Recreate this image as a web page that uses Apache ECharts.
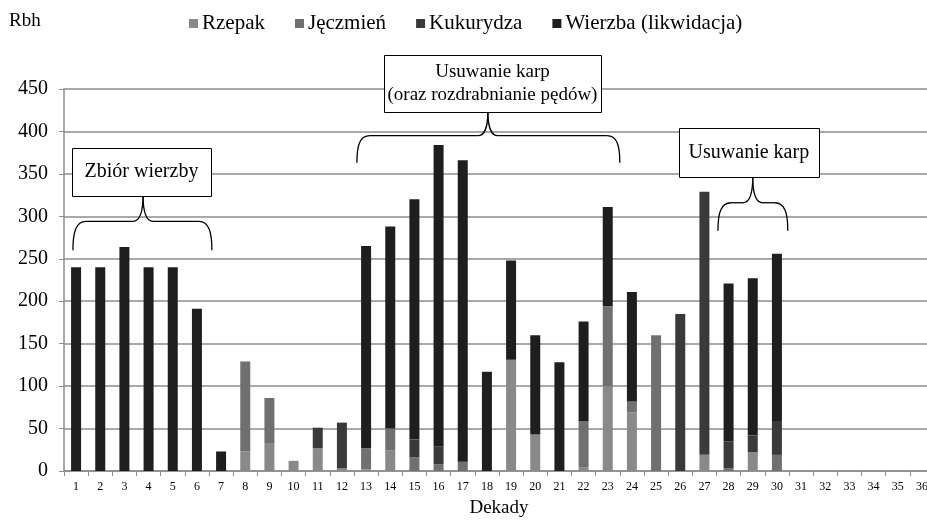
<!DOCTYPE html>
<html>
<head>
<meta charset="utf-8">
<script src="https://cdn.jsdelivr.net/npm/echarts@6/dist/echarts.min.js"></script>
<style>
  html, body { margin: 0; padding: 0; background: #fff; overflow: hidden; }
  #chart { width: 927px; height: 524px; }
</style>
</head>
<body>
<div id="chart"></div>
<script>
// dekady 1..36
const categories = Array.from({ length: 36 }, (e, i) => String(i + 1))

const seriesNames = ['Rzepak', 'Jęczmień', 'Kukurydza', 'Wierzba (likwidacja)']

const rzepak = [0, 0, 0, 0, 0, 0, 0, 23, 33, 12, 27, 3, 2, 24, 0, 0, 0, 0, 131, 43, 0, 4, 100, 69, 0, 0, 19, 0, 22, 0, 0, 0, 0, 0, 0, 0]
const jeczmien = [0, 0, 0, 0, 0, 0, 0, 106, 53, 0, 0, 0, 25, 26, 16, 8, 11, 0, 0, 0, 0, 55, 94, 13, 160, 0, 0, 3, 0, 19, 0, 0, 0, 0, 0, 0]
const kukurydza = [0, 0, 0, 0, 0, 0, 0, 0, 0, 0, 24, 54, 0, 0, 21, 21, 0, 0, 0, 0, 0, 0, 0, 0, 0, 185, 310, 32, 20, 40, 0, 0, 0, 0, 0, 0]
const wierzba = [240, 240, 264, 240, 240, 191, 23, 0, 0, 0, 0, 0, 238, 238, 283, 355, 355, 117, 117, 117, 128, 117, 117, 129, 0, 0, 0, 186, 185, 197, 0, 0, 0, 0, 0, 0]

const yTicks = { min: 0, max: 450, interval: 50 }

const annotationTexts = ['Zbiór wierzby', 'Usuwanie karp\n(oraz rozdrabnianie pędów)', 'Usuwanie karp']

const colors = ['#898989', '#707070', '#3a3a3a', '#1e1e1e']
const font = '"Liberation Serif", "Times New Roman", serif'

// ramki i klamry w układzie danych (pozycja dekady, wartość)
const boxes = [
  { c0: 0.83, c1: 6.58, v0: 325, v1: 381, size: 20 },
  { c0: 13.74, c1: 22.72, v0: 423, v1: 490, size: 19 },
  { c0: 25.94, c1: 31.74, v0: 346, v1: 404, size: 20 }
]
const braces = [
  { cl: 0.87, cr: 6.62, cm: 3.77, vb: 260, vh: 294, vt: 325 },
  { cl: 12.62, cr: 23.5, cm: 18.04, vb: 363, vh: 395, vt: 423 },
  { cl: 27.56, cr: 30.45, cm: 29.0, vb: 283, vh: 316, vt: 346 }
]

const chart = echarts.init(document.getElementById('chart'))

const seriesData = [rzepak, jeczmien, kukurydza, wierzba]

chart.setOption({
  animation: false,
  color: colors,
  textStyle: { fontFamily: font },
  title: {
    text: 'Rbh',
    left: 4,
    top: 7,
    textStyle: { fontFamily: font, fontSize: 19, fontWeight: 'normal', color: '#000' }
  },
  legend: {
    data: seriesNames,
    left: 184,
    top: 8,
    icon: 'rect',
    itemWidth: 9,
    itemHeight: 9,
    itemGap: 30,
    textStyle: { fontFamily: font, fontSize: 21, color: '#000', padding: [0, 0, 0, -1] }
  },
  grid: {
    left: 64,
    top: 89,
    width: 870,
    bottom: 53,
    outerBoundsMode: 'none',
    containLabel: false
  },
  xAxis: {
    type: 'category',
    data: categories,
    name: 'Dekady',
    nameLocation: 'middle',
    nameGap: 28,
    nameTextStyle: { fontFamily: font, fontSize: 19, color: '#000' },
    axisLine: { lineStyle: { color: '#8c8c8c', width: 1.5 } },
    axisTick: { show: true, length: 5, lineStyle: { color: '#8c8c8c' } },
    axisLabel: { fontFamily: font, fontSize: 12, color: '#000', margin: 10, interval: 0 }
  },
  yAxis: {
    type: 'value',
    min: yTicks.min,
    max: yTicks.max,
    interval: yTicks.interval,
    axisLine: { show: true, lineStyle: { color: '#8c8c8c', width: 1.5 } },
    axisTick: { show: true, length: 5, lineStyle: { color: '#8c8c8c' } },
    axisLabel: { fontFamily: font, fontSize: 20, color: '#000', margin: 16 },
    splitLine: { lineStyle: { color: '#8c8c8c', width: 1.5 } }
  },
  series: seriesNames.map((name, i) => ({
    name,
    type: 'bar',
    stack: 'total',
    barWidth: 10,
    data: seriesData[i]
  }))
})

function px (c, v) {
  const a = chart.convertToPixel({ gridIndex: 0 }, [0, v])
  const b = chart.convertToPixel({ gridIndex: 0 }, [1, v])
  const w = b[0] - a[0]
  return [a[0] + (c - 1) * w, a[1]]
}

const lineStyle = { fill: 'none', stroke: '#000', lineWidth: 1.3 }
const curve = (x1, y1, cx1, cy1, cx2, cy2, x2, y2) => ({
  type: 'bezierCurve',
  z: 99,
  shape: { x1, y1, cpx1: cx1, cpy1: cy1, cpx2: cx2, cpy2: cy2, x2, y2 },
  style: lineStyle
})
const seg = (x1, y1, x2, y2) => ({
  type: 'line',
  z: 99,
  shape: { x1, y1, x2, y2 },
  style: lineStyle
})

const graphic = []
boxes.forEach((b, i) => {
  const p0 = px(b.c0, b.v1)
  const p1 = px(b.c1, b.v0)
  graphic.push({
    type: 'rect',
    z: 100,
    shape: { x: Math.round(p0[0]) + 0.5, y: Math.round(p0[1]) + 0.5, width: Math.round(p1[0] - p0[0]), height: Math.round(p1[1] - p0[1]) },
    style: { fill: '#fff', stroke: '#000', lineWidth: 1 }
  })
  graphic.push({
    type: 'text',
    z: 101,
    x: (p0[0] + p1[0]) / 2,
    y: (p0[1] + p1[1]) / 2,
    style: {
      text: annotationTexts[i],
      font: b.size + 'px ' + font,
      fill: '#000',
      align: 'center',
      verticalAlign: 'middle',
      lineHeight: 23
    }
  })
})
braces.forEach(b => {
  const l = px(b.cl, b.vb)
  const r = px(b.cr, b.vb)
  const m = px(b.cm, b.vt)
  const yh = px(b.cl, b.vh)[1]
  graphic.push(curve(l[0], l[1], l[0], l[1] - 18, l[0] + 3, yh, l[0] + 13, yh))
  graphic.push(seg(l[0] + 13, yh, m[0] - 10, yh))
  graphic.push(curve(m[0] - 10, yh, m[0] - 4, yh, m[0], yh - 8, m[0], m[1]))
  graphic.push(curve(m[0], m[1], m[0], yh - 8, m[0] + 4, yh, m[0] + 10, yh))
  graphic.push(seg(m[0] + 10, yh, r[0] - 13, yh))
  graphic.push(curve(r[0] - 13, yh, r[0] - 3, yh, r[0], r[1] - 18, r[0], r[1]))
})

chart.setOption({ graphic })
</script>
</body>
</html>
